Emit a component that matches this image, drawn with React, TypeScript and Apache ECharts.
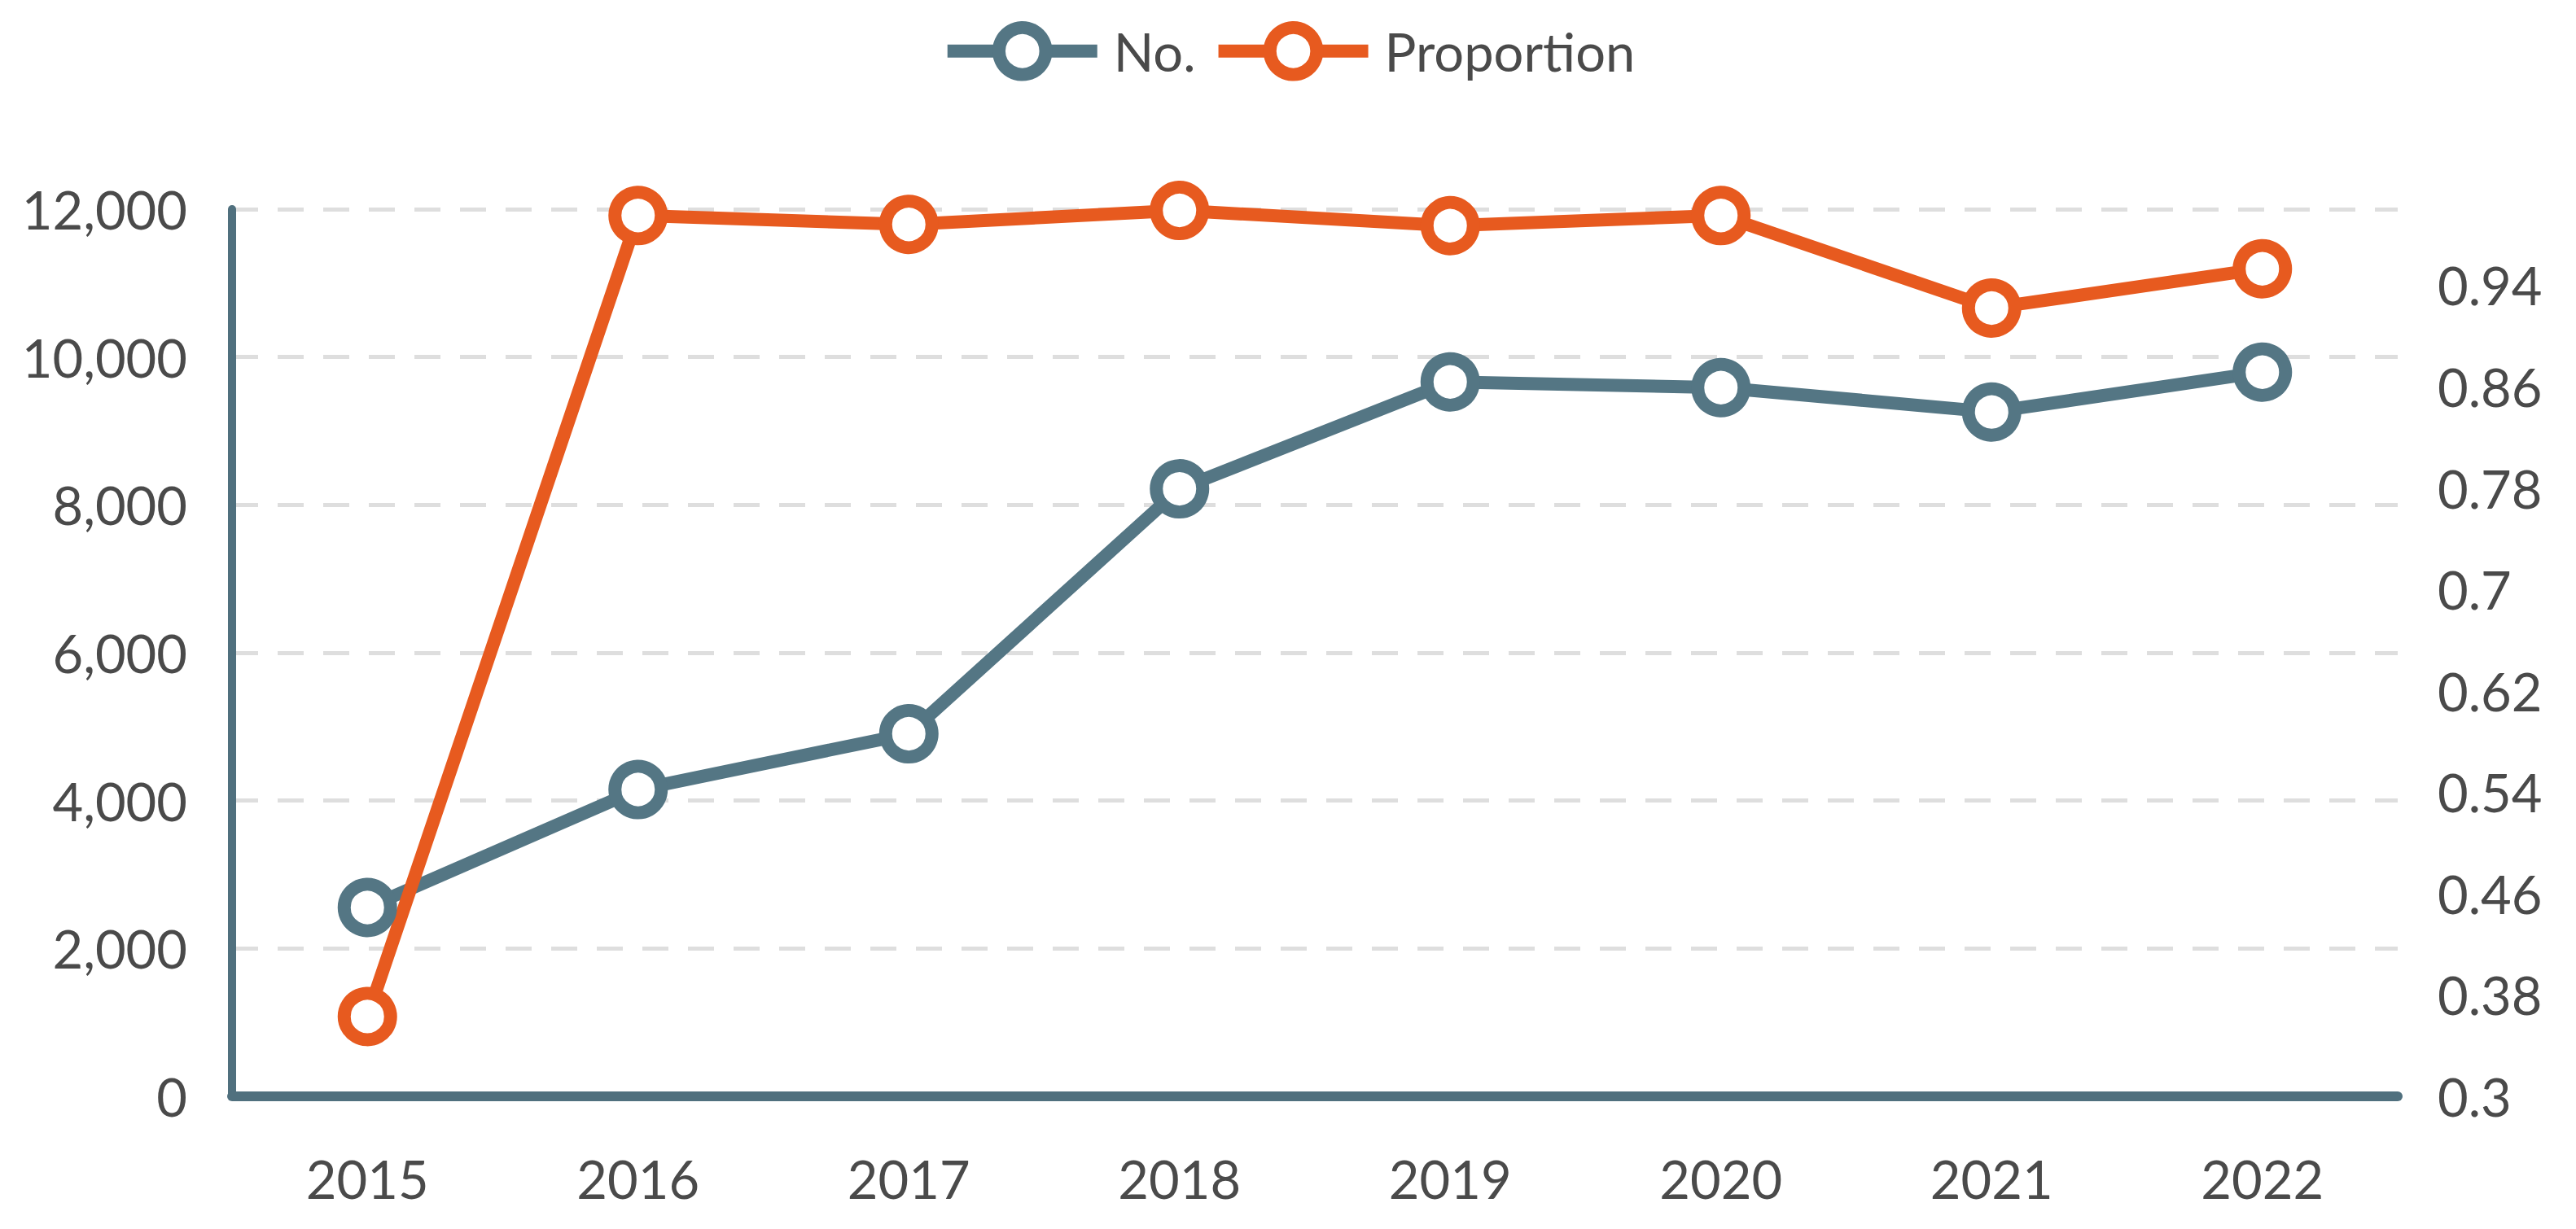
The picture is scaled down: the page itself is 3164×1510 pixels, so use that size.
import React, { useEffect, useRef } from "react";
import * as echarts from "echarts";

const years = ["2015", "2016", "2017", "2018", "2019", "2020", "2021", "2022"];
const countValues = [2554, 4150, 4904, 8217, 9664, 9587, 9257, 9796];
const proportionValues = [0.363, 0.995, 0.988, 0.999, 0.987, 0.995, 0.922, 0.953];
const seriesNames = ["No.", "Proportion"];

const BLUE = "#547684";
const ORANGE = "#E75A1F";
const AXIS = "#50707E";
const TEXT = "#4A4A4A";
const FONT = "Lato";

export default function App() {
  const ref = useRef<HTMLDivElement>(null);
  useEffect(() => {
    if (!ref.current) return;
    const chart = echarts.init(ref.current, null, { renderer: "svg" });
    const mk = (color: string) => ({
      itemStyle: { color: "#fff", borderColor: color, borderWidth: 16 },
      lineStyle: { color, width: 16 },
    });
    chart.setOption({
      animation: false,
      backgroundColor: "#fff",
      textStyle: { fontFamily: FONT },
      legend: {
        left: "center",
        top: 26,
        padding: 0,
        itemWidth: 184,
        itemHeight: 72,
        itemGap: 20,
        textStyle: { fontFamily: FONT, fontSize: 65, color: TEXT, padding: [0, 0, 0, 15] },
        data: [
          { name: seriesNames[0], ...mk(BLUE) },
          { name: seriesNames[1], ...mk(ORANGE) },
        ],
      },
      grid: { left: 285, right: 219, top: 257, bottom: 163, containLabel: false },
      xAxis: {
        type: "category",
        data: years,
        boundaryGap: true,
        axisLine: { show: true, lineStyle: { color: AXIS, width: 12 } },
        axisTick: { show: false },
        axisLabel: { color: TEXT, fontFamily: FONT, fontSize: 65, margin: 68 },
        splitLine: { show: false },
      },
      yAxis: [
        {
          type: "value",
          min: 0,
          max: 12000,
          interval: 2000,
          axisLine: { show: true, lineStyle: { color: AXIS, width: 10 } },
          axisTick: { show: false },
          axisLabel: { color: TEXT, fontFamily: FONT, fontSize: 65, margin: 55 },
          splitLine: { show: true, lineStyle: { color: "#DEDEDE", width: 5, type: [32, 24] } },
        },
        {
          type: "value",
          position: "right",
          min: 0.3,
          max: 1.0,
          interval: 0.08,
          axisLine: { show: false },
          axisTick: { show: false },
          splitLine: { show: false },
          axisLabel: { color: TEXT, fontFamily: FONT, fontSize: 65, margin: 49, showMaxLabel: false, align: "left" },
        },
      ],
      series: [
        {
          name: seriesNames[0],
          type: "line",
          yAxisIndex: 0,
          data: countValues,
          symbol: "circle",
          symbolSize: 57,
          showAllSymbol: true,
          ...mk(BLUE),
        },
        {
          name: seriesNames[1],
          type: "line",
          yAxisIndex: 1,
          data: proportionValues,
          symbol: "circle",
          symbolSize: 57,
          showAllSymbol: true,
          ...mk(ORANGE),
        },
      ],
    });
    return () => chart.dispose();
  }, []);
  return (
    <div
      ref={ref}
      style={{ position: "absolute", left: 0, top: 0, width: 3164, height: 1510 }}
    />
  );
}
